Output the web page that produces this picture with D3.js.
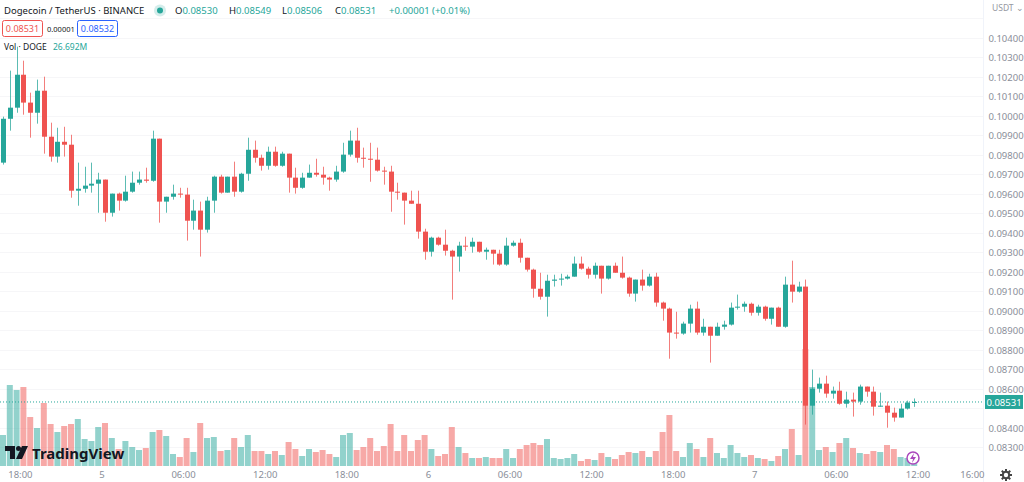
<!DOCTYPE html>
<html>
<head>
<meta charset="utf-8">
<script src="https://cdn.jsdelivr.net/npm/d3@7"></script>
<style>
  body { margin: 0; background: #fff; }
  svg { display: block; font-family: "Noto Sans", "Liberation Sans", sans-serif; }
</style>
</head>
<body>
<svg id="chart" width="1024" height="482"></svg>
<script>
// 30 min DOGE/USDT candles, first one at 16:30 on the 4th
const firstOpen = 0.09759
const closes = [
  0.09984,0.10041,0.10210,0.10067,0.10015,0.10128,0.09892,0.09790,0.09866,0.09851,
  0.09615,0.09625,0.09641,0.09651,0.09672,0.09502,0.09600,0.09564,0.09610,0.09656,
  0.09672,0.09666,0.09882,0.09559,0.09584,0.09600,0.09595,0.09461,0.09513,0.09415,
  0.09564,0.09687,0.09605,0.09687,0.09610,0.09702,0.09825,0.09784,0.09743,0.09815,
  0.09743,0.09805,0.09682,0.09630,0.09682,0.09707,0.09697,0.09682,0.09672,0.09713,
  0.09800,0.09872,0.09784,0.09779,0.09774,0.09718,0.09713,0.09610,0.09605,0.09564,
  0.09548,0.09405,0.09302,0.09374,0.09338,0.09307,0.09277,0.09333,0.09328,0.09353,
  0.09302,0.09312,0.09292,0.09236,0.09333,0.09348,0.09271,0.09210,0.09112,0.09071,
  0.09153,0.09159,0.09164,0.09174,0.09241,0.09215,0.09184,0.09230,0.09164,0.09230,
  0.09194,0.09169,0.09087,0.09159,0.09128,0.09174,0.09041,0.09010,0.08887,0.08882,
  0.08933,0.09010,0.08887,0.08917,0.08871,0.08917,0.08928,0.09015,0.09020,0.09035,
  0.08989,0.09020,0.08958,0.09015,0.08917,0.09133,0.09097,0.09123,0.08512,0.08599,
  0.08625,0.08574,0.08589,0.08522,0.08543,0.08533,0.08610,0.08584,0.08507,0.08512,
  0.08476,0.08451,0.08497,0.08528,0.08531
]
const highs = [
  0.09995,0.10231,0.10354,0.10282,0.10118,0.10185,0.10200,0.09964,0.09938,0.09943,
  0.09902,0.09759,0.09738,0.09759,0.09707,0.09672,0.09600,0.09605,0.09692,0.09713,
  0.09713,0.09733,0.09923,0.09882,0.09584,0.09646,0.09630,0.09630,0.09569,0.09559,
  0.09584,0.09692,0.09697,0.09687,0.09764,0.09707,0.09887,0.09872,0.09800,0.09841,
  0.09841,0.09815,0.09805,0.09733,0.09707,0.09749,0.09779,0.09738,0.09687,0.09743,
  0.09861,0.09923,0.09938,0.09836,0.09861,0.09836,0.09738,0.09743,0.09656,0.09605,
  0.09615,0.09615,0.09420,0.09379,0.09379,0.09415,0.09312,0.09353,0.09379,0.09374,
  0.09353,0.09323,0.09312,0.09312,0.09374,0.09359,0.09369,0.09271,0.09215,0.09194,
  0.09184,0.09184,0.09189,0.09184,0.09277,0.09277,0.09225,0.09246,0.09230,0.09230,
  0.09246,0.09277,0.09174,0.09159,0.09210,0.09189,0.09194,0.09046,0.09015,0.08994,
  0.08943,0.09030,0.09046,0.08958,0.08917,0.08938,0.08948,0.09041,0.09082,0.09046,
  0.09041,0.09030,0.09025,0.09015,0.09020,0.09174,0.09256,0.09148,0.09159,0.08697,
  0.08656,0.08666,0.08610,0.08635,0.08584,0.08579,0.08620,0.08610,0.08610,0.08579,
  0.08533,0.08502,0.08522,0.08538,0.08549
]
const lows = [
  0.09749,0.09923,0.10015,0.10005,0.09887,0.09959,0.09805,0.09764,0.09759,0.09790,
  0.09579,0.09538,0.09605,0.09605,0.09502,0.09456,0.09482,0.09513,0.09559,0.09605,
  0.09646,0.09656,0.09661,0.09451,0.09502,0.09569,0.09579,0.09359,0.09415,0.09277,
  0.09400,0.09502,0.09600,0.09605,0.09584,0.09605,0.09666,0.09759,0.09718,0.09723,
  0.09738,0.09738,0.09605,0.09600,0.09625,0.09682,0.09687,0.09646,0.09615,0.09661,
  0.09707,0.09790,0.09759,0.09733,0.09661,0.09713,0.09646,0.09507,0.09569,0.09441,
  0.09548,0.09369,0.09261,0.09277,0.09333,0.09282,0.09056,0.09200,0.09307,0.09297,
  0.09297,0.09261,0.09236,0.09230,0.09230,0.09328,0.09246,0.09200,0.09066,0.09056,
  0.08969,0.09123,0.09128,0.09159,0.09174,0.09210,0.09164,0.09164,0.09087,0.09159,
  0.09194,0.09164,0.09071,0.09046,0.09102,0.09123,0.09020,0.08948,0.08753,0.08856,
  0.08876,0.08887,0.08876,0.08871,0.08733,0.08871,0.08902,0.08923,0.09005,0.08994,
  0.08974,0.08974,0.08948,0.08928,0.08917,0.08912,0.09041,0.09092,0.08415,0.08466,
  0.08579,0.08553,0.08548,0.08517,0.08502,0.08456,0.08517,0.08558,0.08461,0.08507,
  0.08399,0.08430,0.08451,0.08492,0.08506
]
// volume in millions DOGE
const volumes = [
  93,243,228,237,147,114,189,126,102,120,
  126,141,81,75,117,129,84,51,75,57,
  48,54,102,108,90,36,27,84,42,129,
  84,87,45,48,84,57,93,45,45,36,
  45,33,72,51,30,51,42,48,36,27,
  93,99,48,57,84,45,60,126,45,93,
  45,78,93,51,30,36,117,57,39,24,
  24,27,24,24,51,24,51,63,69,63,
  81,24,21,24,36,15,21,18,39,27,
  21,33,42,39,45,27,45,102,153,45,
  27,69,51,27,84,39,24,63,39,27,
  33,24,21,15,30,51,111,33,351,237,
  48,57,42,69,84,54,39,36,45,42,
  63,51,27,24,27
]
const priceTicks = [0.105,0.104,0.103,0.102,0.101,0.100,0.099,0.098,0.097,0.096,0.095,0.094,
  0.093,0.092,0.091,0.090,0.089,0.088,0.087,0.086,0.085,0.084,0.083]
const timeLabels = ["18:00","5","06:00","12:00","18:00","6","06:00","12:00","18:00","7","06:00","12:00","16:00"]
const timeLabelHours = [18,24,30,36,42,48,54,60,66,72,78,84,88]
const lastPrice = 0.08531

const green = "#26a69a", red = "#ef5350"
const t0 = new Date(2022, 0, 4, 16, 30)
const halfHour = 30 * 60 * 1000
const candles = closes.map((c, i) => ({
  t: new Date(+t0 + i * halfHour),
  o: i === 0 ? firstOpen : closes[i - 1],
  h: highs[i], l: lows[i], c: c, v: volumes[i]
}))

const svg = d3.select("#chart")
const plotRight = 983

const x = d3.scaleTime()
  .domain([t0, new Date(+t0 + 10 * halfHour)])
  .range([3, 3 + 10 * 6.8])
const y = d3.scaleLinear().domain([0.083, 0.104]).range([447, 37.7])
const yVol = d3.scaleLinear().domain([0, 360]).range([466, 346])

// faint grid
svg.append("g").selectAll("line").data(priceTicks).join("line")
  .attr("x1", 0).attr("x2", plotRight)
  .attr("y1", d => Math.round(y(d)) + 0.5).attr("y2", d => Math.round(y(d)) + 0.5)
  .attr("stroke", "#f6f6f8")

// volume bars
svg.append("g").selectAll("rect").data(candles).join("rect")
  .attr("x", d => x(d.t) - 3)
  .attr("width", 6)
  .attr("y", d => yVol(d.v))
  .attr("height", d => yVol(0) - yVol(d.v))
  .attr("fill", d => d.c >= d.o ? green : red)
  .attr("fill-opacity", 0.5)

// last price line
svg.append("line")
  .attr("x1", 0).attr("x2", plotRight)
  .attr("y1", y(lastPrice)).attr("y2", y(lastPrice))
  .attr("stroke", green).attr("stroke-dasharray", "1,2").attr("stroke-width", 1)

// candles
const cg = svg.append("g").selectAll("g").data(candles).join("g")
cg.append("line")
  .attr("x1", d => Math.round(x(d.t)) + 0.5).attr("x2", d => Math.round(x(d.t)) + 0.5)
  .attr("y1", d => y(d.h)).attr("y2", d => y(d.l))
  .attr("stroke", d => d.c >= d.o ? green : red).attr("stroke-opacity", 0.75)
cg.append("rect")
  .attr("x", d => Math.round(x(d.t)) - 2)
  .attr("width", 5)
  .attr("y", d => y(Math.max(d.o, d.c)))
  .attr("height", d => Math.max(1, Math.abs(y(d.o) - y(d.c))))
  .attr("fill", d => d.c >= d.o ? green : red)

// right price axis (the tick under the last price box is hidden, like the original)
svg.append("line").attr("x1", plotRight + 0.5).attr("x2", plotRight + 0.5)
  .attr("y1", 0).attr("y2", 482).attr("stroke", "#f0f3fa")
svg.append("g").selectAll("text")
  .data(priceTicks.filter(d => Math.abs(y(d) - y(lastPrice)) > 12 && y(d) > 25))
  .join("text")
  .attr("x", 1006).attr("y", d => y(d) + 4)
  .attr("text-anchor", "middle")
  .attr("font-size", 9.5).attr("fill", "#8a8e99")
  .text(d => d3.format(".5f")(d))
svg.append("text").attr("x", 992).attr("y", 11).attr("font-size", 8.5)
  .attr("fill", "#9598a1").text("USDT ⌄")
svg.append("rect").attr("x", 985).attr("y", y(lastPrice) - 7)
  .attr("width", 38).attr("height", 14).attr("fill", green)
svg.append("text").attr("x", 1004).attr("y", y(lastPrice) + 4)
  .attr("text-anchor", "middle").attr("font-size", 9.5).attr("fill", "#fff")
  .text(d3.format(".5f")(lastPrice))

// time axis
const timeTicks = timeLabelHours.map(h => new Date(2022, 0, 4, h))
svg.append("g").selectAll("text").data(timeTicks).join("text")
  .attr("x", d => x(d) - 3).attr("y", 478)
  .attr("text-anchor", "middle").attr("font-size", 9.5).attr("fill", "#8a8e99")
  .text((d, i) => timeLabels[i])

// gear
const gear = svg.append("g").attr("transform", "translate(1006,475)")
gear.selectAll("line").data(d3.range(8)).join("line")
  .attr("x1", 0).attr("y1", 0).attr("x2", d => 6 * Math.cos(d * Math.PI / 4)).attr("y2", d => 6 * Math.sin(d * Math.PI / 4))
  .attr("stroke", "#444").attr("stroke-width", 2)
gear.append("circle").attr("r", 4.2).attr("fill", "#444")
gear.append("circle").attr("r", 2.2).attr("fill", "#fff")

// header
svg.append("text").attr("x", 4).attr("y", 14).attr("font-size", 9.5).attr("fill", "#131722")
  .text("Dogecoin / TetherUS · BINANCE")
svg.append("circle").attr("cx", 160).attr("cy", 10.5).attr("r", 6).attr("fill", green).attr("fill-opacity", 0.2)
svg.append("circle").attr("cx", 160).attr("cy", 10.5).attr("r", 3).attr("fill", green)
const ohlc = [["O", "0.08530"], ["H", "0.08549"], ["L", "0.08506"], ["C", "0.08531"], ["", "+0.00001 (+0.01%)"]]
const ohlcX = [175, 229, 282, 335, 389]
ohlc.forEach(([k, v], i) => {
  const t = svg.append("text").attr("x", ohlcX[i]).attr("y", 14).attr("font-size", 9.5)
  t.append("tspan").attr("fill", "#131722").text(k)
  t.append("tspan").attr("fill", green).text(v)
})
svg.append("rect").attr("x", 2.5).attr("y", 20.5).attr("width", 40).attr("height", 16).attr("rx", 2)
  .attr("fill", "#fff").attr("stroke", red)
svg.append("text").attr("x", 22.5).attr("y", 32).attr("text-anchor", "middle").attr("font-size", 9)
  .attr("fill", red).text("0.08531")
svg.append("text").attr("x", 47).attr("y", 31.5).attr("font-size", 7.5).attr("fill", "#131722").text("0.00001")
svg.append("rect").attr("x", 77.5).attr("y", 20.5).attr("width", 40).attr("height", 16).attr("rx", 2)
  .attr("fill", "#fff").attr("stroke", "#2962ff")
svg.append("text").attr("x", 97.5).attr("y", 32).attr("text-anchor", "middle").attr("font-size", 9)
  .attr("fill", "#2962ff").text("0.08532")
svg.append("text").attr("x", 4).attr("y", 50).attr("font-size", 8.5).attr("fill", "#131722").text("Vol · DOGE")
svg.append("text").attr("x", 53).attr("y", 50).attr("font-size", 8.5).attr("fill", green).text("26.692M")

// TradingView watermark
const tv = svg.append("g").attr("transform", "translate(5,446)")
tv.append("path").attr("d", "M0,0 H10 V13 H5 V5 H0 Z").attr("fill", "#131722")
tv.append("circle").attr("cx", 13.5).attr("cy", 2.5).attr("r", 2.5).attr("fill", "#131722")
tv.append("path").attr("d", "M17,0 H23 L17,13 H11 Z").attr("fill", "#131722")
tv.append("text").attr("x", 27).attr("y", 13).attr("font-size", 15).attr("font-weight", "bold")
  .attr("fill", "#131722").text("TradingView")

// lightning badge
svg.append("circle").attr("cx", 913).attr("cy", 458).attr("r", 6).attr("fill", "#fff")
  .attr("stroke", "#ab47bc").attr("stroke-width", 1.5)
svg.append("path").attr("d", "M914,453 L910,459 H913 L912,463 L916,457 H913 Z").attr("fill", "#ab47bc")
</script>
</body>
</html>
